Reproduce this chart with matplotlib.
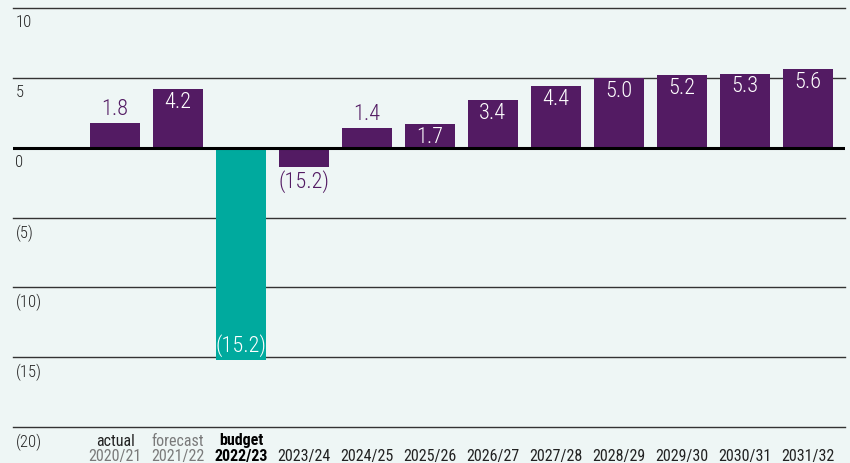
import matplotlib
matplotlib.use("Agg")
import matplotlib.pyplot as plt
import matplotlib.transforms as mtransforms
from matplotlib import font_manager

# data
years = ['2020/21', '2021/22', '2022/23', '2023/24', '2024/25', '2025/26',
         '2026/27', '2027/28', '2028/29', '2029/30', '2030/31', '2031/32']
stages = ['actual', 'forecast', 'budget', '', '', '', '', '', '', '', '', '']
values = [1.8, 4.2, -15.2, -1.4, 1.4, 1.7, 3.4, 4.4, 5.0, 5.2, 5.3, 5.6]
labels = ['1.8', '4.2', '(15.2)', '(15.2)', '1.4', '1.7', '3.4', '4.4',
          '5.0', '5.2', '5.3', '5.6']
label_inside = [False, True, True, False, False, True, True, True,
                True, True, True, True]
y_grid = [10, 5, 0, -5, -10, -15, -20]
y_grid_labels = ['10', '5', '0', '(5)', '(10)', '(15)', '(20)']

bg = '#eef6f5'
purple = '#531b63'
teal = '#00aa9e'
grey = '#7a7a7a'
dark = '#222222'

names = {f.name for f in font_manager.fontManager.ttflist}
font = 'DejaVu Sans'
for cand in ['Roboto Condensed', 'Liberation Sans Narrow', 'DejaVu Sans Condensed', 'Roboto']:
    if cand in names:
        font = cand
        break
plt.rcParams['font.family'] = [font, 'DejaVu Sans']

fig = plt.figure(figsize=(8.5, 4.63), dpi=100, facecolor=bg)
ax = fig.add_axes([13 / 850, 36 / 463, (845 - 13) / 850, (427 - 8) / 463])
ax.set_facecolor(bg)

x = list(range(len(years)))
colors = [teal if s == 'budget' else purple for s in stages]
ax.bar(x, values, width=0.79, color=colors, zorder=2)

for g in y_grid:
    if g == 0:
        continue
    ax.axhline(g, color='#333333', lw=1.0, zorder=1, clip_on=False)
ax.axhline(0, color='black', lw=2.2, zorder=3)

ax.set_ylim(-20, 10)
ax.set_xlim(-1.62, 11.59)

# y labels sit just under each grid line
tr = mtransforms.blended_transform_factory(ax.transAxes, ax.transData)
off = mtransforms.ScaledTranslation(0, -5 / 72, fig.dpi_scale_trans)
for g, t in zip(y_grid, y_grid_labels):
    ax.text(0.003, g, t, transform=tr + off, ha='left', va='top', fontsize=12,
            color=dark, fontweight='light')

for xi, v, lab, inside in zip(x, values, labels, label_inside):
    up = (v >= 0) != inside
    dy = 2 if up else -2
    va = 'bottom' if up else 'top'
    c = 'white' if inside else purple
    ax.annotate(lab, (xi, v), xytext=(0, dy), textcoords='offset points',
                ha='center', va=va, color=c, fontsize=16, fontweight='light', zorder=4)

ax.set_xticks(x)
ax.set_xticklabels([''] * len(x))
ax.tick_params(length=0)
ax.set_yticks([])
for s in ax.spines.values():
    s.set_visible(False)

# two-line category labels below the axis
xtr = mtransforms.blended_transform_factory(ax.transData, fig.transFigure)
for xi, yr, st in zip(x, years, stages):
    if st == 'budget':
        c1, c2, w = 'black', 'black', 'bold'
    elif st == 'actual':
        c1, c2, w = dark, grey, 'normal'
    elif st == 'forecast':
        c1, c2, w = grey, grey, 'normal'
    else:
        c1, c2, w = dark, dark, 'normal'
    if st:
        fig.text(xi, 1 - 441 / 463, st, transform=xtr, ha='center', va='center',
                 fontsize=11.5, color=c1, fontweight=w)
    fig.text(xi, 1 - 456 / 463, yr, transform=xtr, ha='center', va='center',
             fontsize=11.5, color=c2, fontweight=w)

fig.savefig('out.png', dpi=100, facecolor=bg)
